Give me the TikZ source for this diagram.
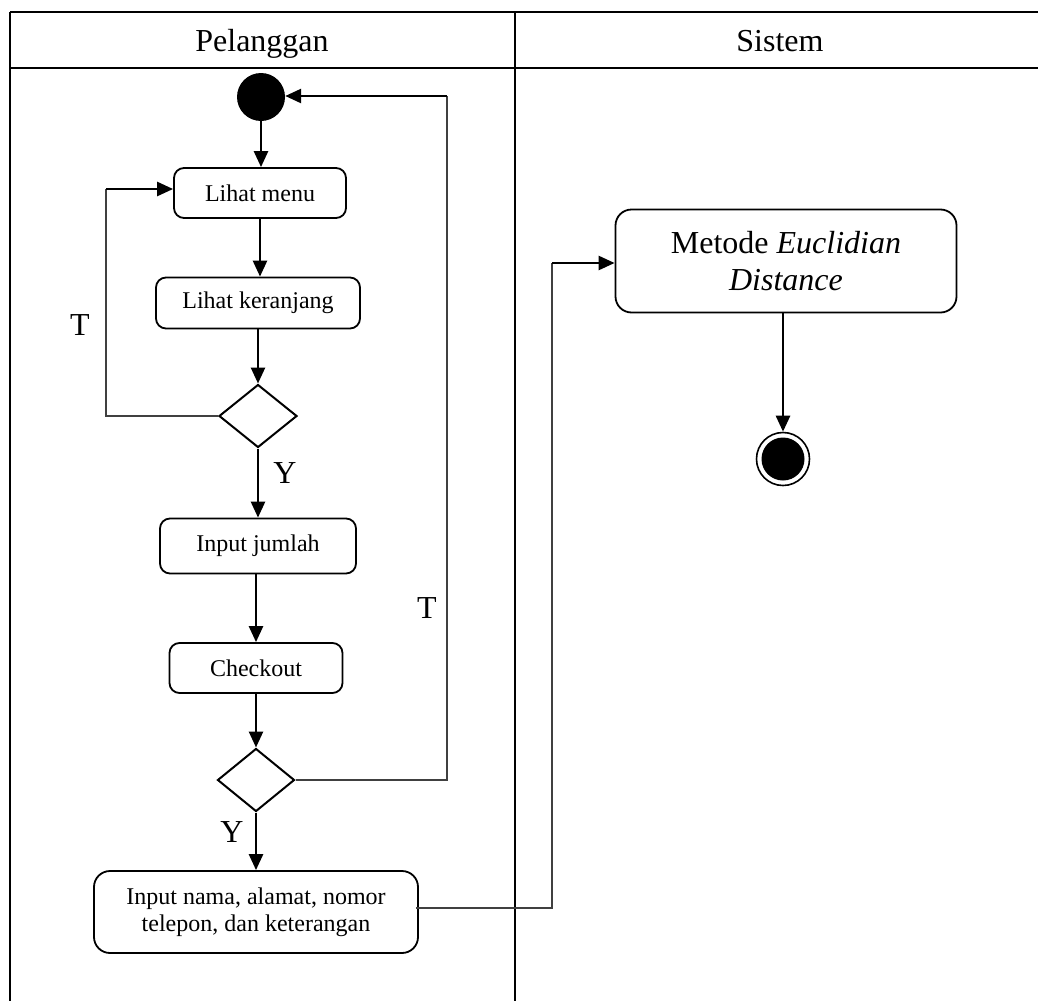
\documentclass[tikz,border=0pt]{standalone}
\usepackage{fontspec}
\setmainfont{Liberation Serif}
\usetikzlibrary{shapes.geometric,arrows.meta}
\begin{document}
\begin{tikzpicture}[x=1pt,y=-1pt,
  lane/.style={line width=2.8pt,black},
  act/.style={draw,line width=1.8pt,rounded corners=10pt,inner sep=0pt,
    font=\fontsize{24}{27}\selectfont,align=center},
  bigact/.style={act,rounded corners=16pt},
  decision/.style={draw,diamond,line width=2pt,inner sep=0pt},
  arr/.style={line width=2.6pt,-{Triangle[length=16pt,width=14pt]}},
  link/.style={line width=1.4pt,black!75},
  guard/.style={font=\fontsize{32}{36}\selectfont,inner sep=0pt},
  head/.style={font=\fontsize{32}{36}\selectfont,inner sep=0pt,anchor=base}]
\useasboundingbox (0,0) rectangle (1038,1001);

% swimlane frame
\draw[lane] (10,12) -- (1038,12);
\draw[lane] (10,68) -- (1038,68);
\draw[lane] (10,12) -- (10,1001);
\draw[lane] (515,12) -- (515,1001);
\node[head] (hp) at (262,51) {Pelanggan};
\node[head] (hs) at (780,51) {Sistem};

% customer lane
\node[circle,fill=black,minimum size=48pt,inner sep=0pt] (start) at (261,97) {};
\node[act,minimum width=172pt,minimum height=50pt] (menu) at (260,193) {Lihat menu};
\node[act,minimum width=204pt,minimum height=51pt] (cart) at (258,303) {Lihat keranjang};
\node[decision,minimum width=78pt,minimum height=63pt] (d1) at (258,416) {};
\node[act,minimum width=196pt,minimum height=55pt] (qty) at (258,546) {Input jumlah};
\node[act,minimum width=173pt,minimum height=50pt] (chk) at (256,668) {Checkout};
\node[decision,minimum width=77pt,minimum height=63pt] (d2) at (256,780) {};
\node[bigact,minimum width=324pt,minimum height=82pt] (form) at (256,912)
  {Input nama, alamat, nomor\\telepon, dan keterangan};

% system lane
\node[bigact,minimum width=341pt,minimum height=103pt,
  font=\fontsize{32}{37}\selectfont] (euc) at (786,261)
  {Metode \textit{Euclidian}\\\textit{Distance}};
\node[circle,draw,line width=1.6pt,minimum size=53pt,inner sep=0pt] (stop) at (783,459) {};
\node[circle,fill=black,minimum size=43pt,inner sep=0pt] at (stop) {};

% guards
\node[guard] (t1) at (80,325) {T};
\node[guard] (y1) at (285,473) {Y};
\node[guard] (t2) at (427,608) {T};
\node[guard] (y2) at (232,832) {Y};

% routing points
\coordinate (l1a) at (106,416);
\coordinate (l1b) at (106,189);
\coordinate (l2a) at (447,780);
\coordinate (l2b) at (447,96);
\coordinate (l3a) at (552,908);
\coordinate (l3b) at (552,263);

% main flow
\draw[arr] (start) -- (start |- menu.north);
\draw[arr] (menu) -- (menu |- cart.north);
\draw[arr] (cart) -- (cart |- d1.north);
\draw[arr] (d1) -- (d1 |- qty.north);
\draw[arr] (qty.south -| chk) -- (chk.north);
\draw[arr] (chk) -- (d2);
\draw[arr] (d2) -- (form);
\draw[arr] (euc.south -| stop) -- (stop);

% loop back to the menu
\draw[link] (d1.west) -- (l1a) -- (l1b);
\draw[arr] (l1b) -- (l1b -| menu.west);
% loop back to the start
\draw[link] (d2.east) -- (l2a) -- (l2b);
\draw[arr] (l2b) -- (l2b -| start.east);
% hand-over to the system
\draw[link] ([xshift=-3pt]form.east |- l3a) -- (l3a) -- (l3b);
\draw[arr] (l3b) -- (l3b -| euc.west);
\end{tikzpicture}
\end{document}
